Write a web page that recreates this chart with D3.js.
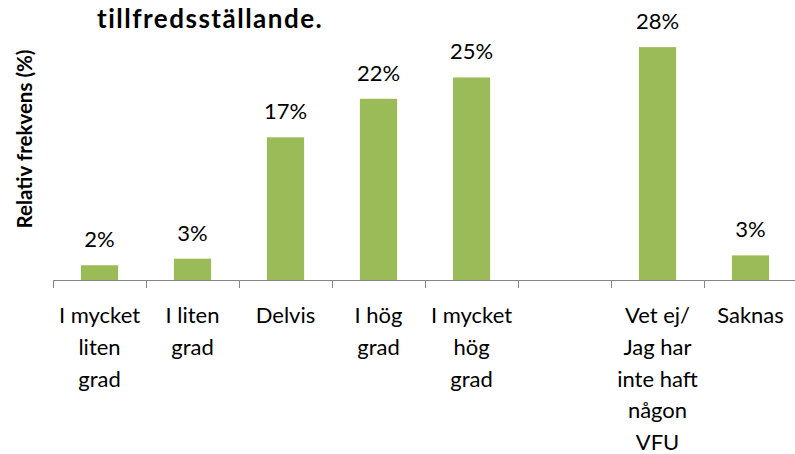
<!DOCTYPE html>
<html>
<head>
<meta charset="utf-8">
<script src="https://cdn.jsdelivr.net/npm/d3@7"></script>
<style>
  body { margin: 0; background: #fff; }
  text { font-family: Lato, "Open Sans", sans-serif; fill: #000; }
</style>
</head>
<body>
<script>
// categories and values (percent)
let categories = ["I mycket liten grad", "I liten grad", "Delvis", "I hög grad",
    "I mycket hög grad", "", "Vet ej/ Jag har inte haft någon VFU", "Saknas"];
let values = [1.8, 2.6, 17.4, 22.1, 24.7, null, 28.4, 3.0];
let valueLabels = ["2%", "3%", "17%", "22%", "25%", "", "28%", "3%"];
let tickLabels = [
    ["I mycket", "liten", "grad"],
    ["I liten", "grad"],
    ["Delvis"],
    ["I hög", "grad"],
    ["I mycket", "hög", "grad"],
    [],
    ["Vet ej/", "Jag har", "inte haft", "någon", "VFU"],
    ["Saknas"]
];
let titleText = "tillfredsställande.";
let yTitle = "Relativ frekvens (%)";

let svgWidth = 795;
let svgHeight = 454;

let svg = d3.select("body")
    .append("svg")
    .attr("width", svgWidth)
    .attr("height", svgHeight)

let plot = { left: 53, right: 797, bottom: 280 }

let data = categories.map((c, i) => ({ cat: c, value: values[i], label: valueLabels[i], lines: tickLabels[i], idx: i }))

let x = d3.scaleBand()
    .domain(d3.range(categories.length))
    .range([plot.left, plot.right])
    .padding(0)

let xEdge = d3.scaleLinear()
    .domain([0, categories.length])
    .range([plot.left, plot.right])

let y = d3.scaleLinear()
    .domain([0, 30])
    .range([plot.bottom, plot.bottom - 30 * 8.2])

let barW = x.bandwidth() * 0.4

// title (only the last line is visible)
svg.append("text")
    .attr("x", 97)
    .attr("y", 28)
    .attr("font-weight", "bold")
    .attr("font-size", "26px")
    .attr("letter-spacing", "1.5px")
    .text(titleText)

// y-axis title
svg.append("text")
    .attr("transform", `translate(32,139) rotate(-90)`)
    .attr("text-anchor", "middle")
    .attr("font-weight", "bold")
    .attr("font-size", "20.5px")
    .text(yTitle)

// bars
svg.selectAll("rect.bar")
    .data(data.filter(d => d.value != null))
    .enter()
    .append("rect")
    .attr("class", "bar")
    .attr("x", d => x(d.idx) + (x.bandwidth() - barW) / 2)
    .attr("y", d => y(d.value))
    .attr("width", barW)
    .attr("height", d => y(0) - y(d.value))
    .attr("fill", "#9bbb59")

// value labels
svg.selectAll("text.val")
    .data(data.filter(d => d.value != null))
    .enter()
    .append("text")
    .attr("class", "val")
    .attr("x", d => x(d.idx) + x.bandwidth() / 2)
    .attr("y", d => y(d.value) - 18)
    .attr("text-anchor", "middle")
    .attr("font-size", "22px")
    .text(d => d.label)

// category axis with ticks between categories
let axisG = svg.append("g")
    .attr("transform", `translate(0,${plot.bottom})`)
    .call(d3.axisBottom(xEdge)
        .tickValues(d3.range(categories.length + 1))
        .tickSize(8)
        .tickSizeOuter(0)
        .tickFormat(""))
axisG.select(".domain").attr("stroke", "#868686")
axisG.selectAll(".tick line").attr("stroke", "#868686")

// category labels, wrapped as in the picture
let lab = svg.selectAll("text.cat")
    .data(data)
    .enter()
    .append("text")
    .attr("class", "cat")
    .attr("text-anchor", "middle")
    .attr("font-size", "22px")
    .attr("transform", d => `translate(${x(d.idx) + x.bandwidth() / 2},323)`)

lab.selectAll("tspan")
    .data(d => d.lines)
    .enter()
    .append("tspan")
    .attr("x", 0)
    .attr("y", (d, i) => i * 31.75)
    .text(d => d)
</script>
</body>
</html>
